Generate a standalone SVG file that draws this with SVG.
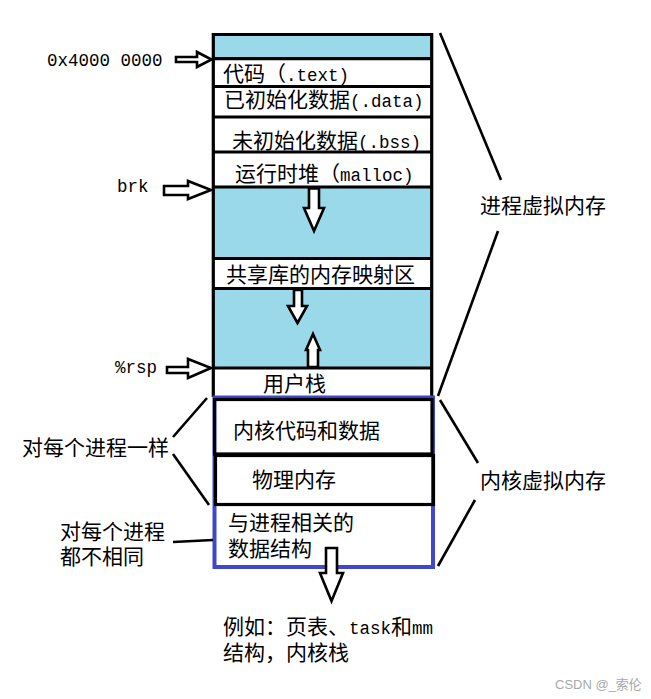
<svg xmlns="http://www.w3.org/2000/svg" width="651" height="699" viewBox="0 0 651 699">
<style>
.t{font-family:"Noto Sans CJK SC","Liberation Sans",sans-serif;font-size:21px;fill:#000}
.l{font-family:"Liberation Mono",monospace;font-size:17.5px}
.cell{stroke:#000;stroke-width:3.2}
.sky{fill:#99d9ea}
.wh{fill:#fff}
.arr{fill:#fff;stroke:#000;stroke-width:2.6;stroke-linejoin:miter}
.ln{stroke:#000;stroke-width:2.6;fill:none}
.wm{font-family:"Liberation Sans","Noto Sans CJK SC",sans-serif;font-size:13px;fill:#a8a8a8}
</style>
<rect width="651" height="699" fill="#fff"/>

<g id="user-space">
  <rect class="sky" x="213" y="34" width="219" height="24"/>
  <rect class="wh" x="213" y="58" width="219" height="129"/>
  <rect class="sky" x="213" y="187" width="219" height="71"/>
  <rect class="wh" x="213" y="258" width="219" height="30"/>
  <rect class="sky" x="213" y="288" width="219" height="80"/>
  <rect class="wh" x="213" y="368" width="219" height="29"/>
  <path class="cell" fill="none" d="M213.3,397 V34.5 H431.7 V397 M213,58.7 H432 M213,86.5 H432 M213,117 H432 M213,152 H432 M213,187 H432 M213,258.5 H432 M213,288.5 H432 M213,368 H432"/>
</g>

<g id="text-seg"><text class="t" x="223" y="81">代码（<tspan class="l">.text)</tspan></text></g>
<g id="data-seg"><text class="t" x="224" y="107">已初始化数据<tspan class="l">(.data)</tspan></text></g>
<g id="bss-seg"><text class="t" x="232" y="148">未初始化数据<tspan class="l">(.bss)</tspan></text></g>
<g id="heap"><text class="t" x="235" y="181">运行时堆（<tspan class="l">malloc)</tspan></text></g>
<g id="shared-lib"><text class="t" x="226" y="282">共享库的内存映射区</text></g>
<g id="user-stack"><text class="t" x="263" y="391">用户栈</text></g>

<g id="kernel-space">
  <rect x="214.5" y="397.5" width="218.5" height="169.5" fill="#fff" stroke="#3f48cc" stroke-width="4"/>
  <rect x="214.5" y="399.5" width="217.5" height="54.5" fill="none" stroke="#000" stroke-width="3.2"/>
  <rect x="215.5" y="455.5" width="218" height="49" fill="none" stroke="#000" stroke-width="3.2"/>
</g>
<g id="kernel-code"><text class="t" x="233" y="438">内核代码和数据</text></g>
<g id="phys-mem"><text class="t" x="252" y="487">物理内存</text></g>
<g id="proc-struct">
  <text class="t" x="228" y="530">与进程相关的</text>
  <text class="t" x="228" y="556">数据结构</text>
</g>

<g id="label-addr"><text class="t" x="47" y="66"><tspan class="l">0x4000 0000</tspan></text></g>
<g id="label-brk"><text class="t" x="117" y="192"><tspan class="l">brk</tspan></text></g>
<g id="label-rsp"><text class="t" x="115" y="373"><tspan class="l">%rsp</tspan></text></g>
<g id="label-same"><text class="t" x="22" y="455">对每个进程一样</text></g>
<g id="label-diff">
  <text class="t" x="60" y="539">对每个进程</text>
  <text class="t" x="60" y="564">都不相同</text>
</g>
<g id="label-pvm"><text class="t" x="480" y="213">进程虚拟内存</text></g>
<g id="label-kvm"><text class="t" x="480" y="488">内核虚拟内存</text></g>
<g id="label-example">
  <text class="t" x="223" y="634">例如：页表、<tspan class="l">task</tspan>和<tspan class="l">mm</tspan></text>
  <text class="t" x="223" y="660">结构，内核栈</text>
</g>

<g id="connectors">
  <polygon class="arr" points="176,57 197,57 197,52 211.5,59.5 197,67 197,62 176,62"/>
  <polygon class="arr" points="164,186 188,186 188,181 211,190 188,199 188,195 164,195"/>
  <polygon class="arr" points="167,367 188,367 188,359 211,368 188,378 188,373 167,373"/>
  <polygon class="arr" points="309,188.5 319,188.5 319,208 324,208 314,231 304,208 309,208"/>
  <polygon class="arr" points="294,290 302,290 302,306 307,306 297.5,323 288,306 294,306"/>
  <polygon class="arr" points="308,367 318,367 318,350 320,350 313,334 306,350 308,350"/>
  <polygon class="arr" points="326,548 337,548 337,573 343,573 331.5,601 320,573 326,573"/>
  <line class="ln" x1="440" y1="33" x2="501" y2="180"/>
  <line class="ln" x1="498" y1="231" x2="438" y2="396"/>
  <line class="ln" x1="440" y1="400" x2="478" y2="463"/>
  <line class="ln" x1="475" y1="500" x2="438" y2="566"/>
  <line class="ln" x1="173" y1="437" x2="207" y2="398"/>
  <line class="ln" x1="173" y1="454" x2="209" y2="505"/>
  <line class="ln" x1="173" y1="542" x2="213" y2="540"/>
</g>

<text class="wm" x="555" y="689">CSDN @_索伦</text>
</svg>
